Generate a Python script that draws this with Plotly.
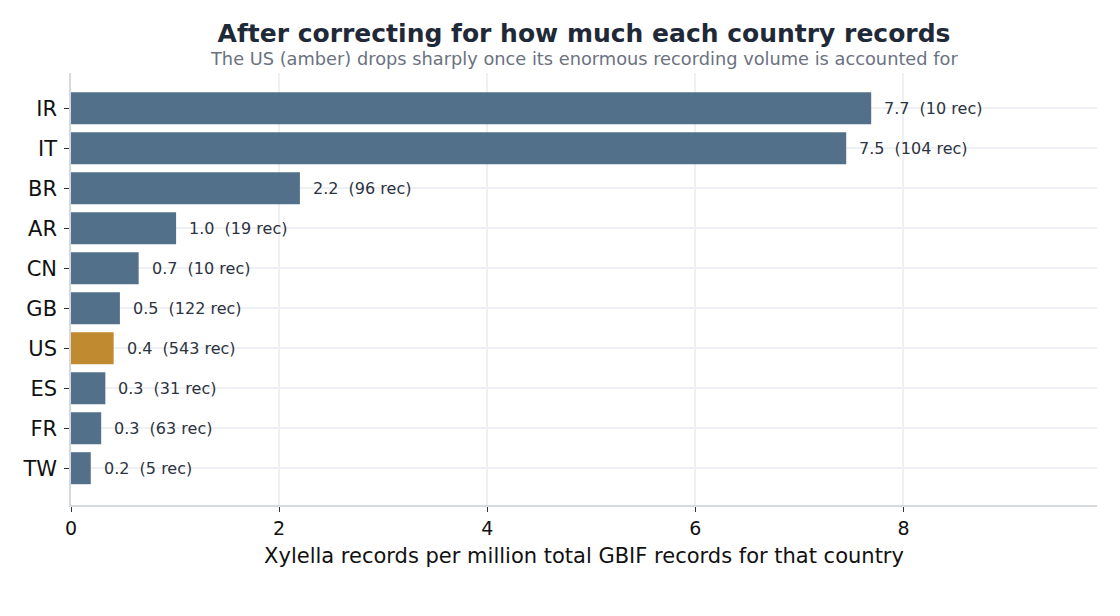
import plotly.graph_objects as go

# Countries ranked by normalised rate
countries = ["IR", "IT", "BR", "AR", "CN", "GB", "US", "ES", "FR", "TW"]
per_million = [7.69, 7.45, 2.20, 1.01, 0.65, 0.47, 0.41, 0.33, 0.29, 0.19]
record_counts = [10, 104, 96, 19, 10, 122, 543, 31, 63, 5]
highlight = "US"

bar_colors = ["#c08a30" if c == highlight else "#52708a" for c in countries]
labels = ["{:.1f}  ({} rec)".format(v, n) for v, n in zip(per_million, record_counts)]

fig = go.Figure()

fig.add_bar(
    x=per_million,
    y=countries,
    orientation="h",
    marker=dict(color=bar_colors, line=dict(width=0)),
    hoverinfo="skip",
)

#Value labels just right of each bar
for c, v, t in zip(countries, per_million, labels):
    fig.add_annotation(
        x=v, y=c, text=t, showarrow=False,
        xanchor="left", xshift=11,
        font=dict(size=16, color="#2d3340"),
    )

#Subtitle sits under the title, centred on the plot area
fig.add_annotation(
    xref="paper", yref="paper", x=0.5, y=1 + 14 / 432,
    xanchor="center", yanchor="middle", showarrow=False,
    text="The US (amber) drops sharply once its enormous recording volume is accounted for",
    font=dict(size=17.8, color="#6b7280"),
)

# page body adds 8px, so the figure is a touch smaller than the window
fig.update_layout(
    width=1112,
    height=608,
    paper_bgcolor="white",
    plot_bgcolor="white",
    font=dict(family="DejaVu Sans", color="#111111"),
    margin=dict(l=63, r=23, t=65, b=111),
    bargap=0.2,
    showlegend=False,
    title=dict(
        text="<b>After correcting for how much each country records</b>",
        xref="paper", x=0.5, xanchor="center",
        yref="container", y=1 - 25 / 608, yanchor="middle",
        font=dict(size=25, color="#1f2937"),
    ),
    xaxis=dict(
        range=[0, 9.86],
        dtick=2,
        showgrid=True, gridcolor="#eef0f3", gridwidth=1.5,
        zeroline=False,
        showline=True, linecolor="#d6d9de", linewidth=1.5,
        ticks="outside", ticklen=5, tickcolor="#333333",
        tickfont=dict(size=19),
        title=dict(text="Xylella records per million total GBIF records for that country",
                   font=dict(size=21), standoff=11),
    ),
    yaxis=dict(
        categoryorder="array", categoryarray=countries,
        range=[9.92, -0.88],
        showgrid=True, gridcolor="#eef0f3", gridwidth=1.5,
        showline=True, linecolor="#d6d9de", linewidth=1.5,
        ticks="outside", ticklen=5, tickcolor="#333333",
        tickfont=dict(size=21), ticklabelstandoff=3,
    ),
)

fig.write_html("out.html")
